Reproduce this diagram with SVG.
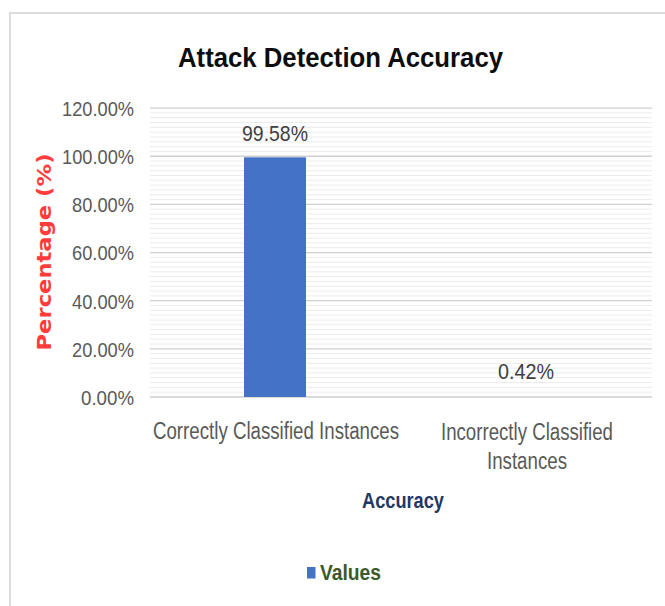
<svg xmlns="http://www.w3.org/2000/svg" width="665" height="606" viewBox="0 0 665 606">
<style>
  .tick { font-family: "Liberation Sans", Arial, sans-serif; font-size: 21px; fill: #595959; text-anchor: end; }
  .cat { font-family: "Liberation Sans", Arial, sans-serif; font-size: 23px; fill: #595959; text-anchor: middle; }
  .val { font-family: "Liberation Sans", Arial, sans-serif; font-size: 22px; fill: #404040; text-anchor: middle; }
  .major { stroke: #d0d0d0; stroke-width: 1.3; fill: none; }
  .minor { stroke: #ececec; stroke-width: 1; fill: none; }
</style>
<rect x="0" y="0" width="665" height="606" fill="#ffffff"/>
<rect id="chart-border" x="10" y="13" width="700" height="700" fill="#ffffff" stroke="#dcdcdc" stroke-width="2"/>

<g id="title">
  <text x="340.5" y="67" font-family="'Liberation Sans', Arial, sans-serif" font-weight="bold" font-size="28" fill="#0d0d0d" text-anchor="middle" textLength="325" lengthAdjust="spacingAndGlyphs">Attack Detection Accuracy</text>
</g>

<g id="gridlines">
  <path class="minor" d="M150 392.2H652M150 387.4H652M150 382.6H652M150 377.7H652M150 372.9H652M150 368.1H652M150 363.3H652M150 358.5H652M150 353.7H652
  M150 344.0H652M150 339.2H652M150 334.4H652M150 329.6H652M150 324.8H652M150 320.0H652M150 315.1H652M150 310.3H652M150 305.5H652
  M150 295.9H652M150 291.1H652M150 286.3H652M150 281.4H652M150 276.6H652M150 271.8H652M150 267.0H652M150 262.2H652M150 257.4H652
  M150 247.7H652M150 242.9H652M150 238.1H652M150 233.3H652M150 228.5H652M150 223.7H652M150 218.8H652M150 214.0H652M150 209.2H652
  M150 199.6H652M150 194.8H652M150 190.0H652M150 185.1H652M150 180.3H652M150 175.5H652M150 170.7H652M150 165.9H652M150 161.1H652
  M150 151.4H652M150 146.6H652M150 141.8H652M150 137.0H652M150 132.2H652M150 127.4H652M150 122.5H652M150 117.7H652M150 112.9H652"/>
  <path class="major" d="M150 397H652M150 348.85H652M150 300.7H652M150 252.55H652M150 204.4H652M150 156.25H652M150 108.1H652"/>
</g>

<g id="y-axis">
  <text class="tick" x="134" y="116" textLength="72" lengthAdjust="spacingAndGlyphs">120.00%</text>
  <text class="tick" x="134" y="164" textLength="72" lengthAdjust="spacingAndGlyphs">100.00%</text>
  <text class="tick" x="134" y="212" textLength="62" lengthAdjust="spacingAndGlyphs">80.00%</text>
  <text class="tick" x="134" y="260" textLength="62" lengthAdjust="spacingAndGlyphs">60.00%</text>
  <text class="tick" x="134" y="309" textLength="62" lengthAdjust="spacingAndGlyphs">40.00%</text>
  <text class="tick" x="134" y="357" textLength="62" lengthAdjust="spacingAndGlyphs">20.00%</text>
  <text class="tick" x="134" y="405" textLength="53" lengthAdjust="spacingAndGlyphs">0.00%</text>
  <text transform="translate(51,252) rotate(-90)" x="0" y="0" font-family="'DejaVu Sans', Verdana, sans-serif" font-weight="bold" font-size="19" fill="#ff3b3b" text-anchor="middle" textLength="197" lengthAdjust="spacingAndGlyphs">Percentage (%)</text>
</g>

<g id="bar-correct">
  <rect x="244" y="157.3" width="62" height="239.7" fill="#4472c4"/>
  <text class="val" x="275" y="141" textLength="66" lengthAdjust="spacingAndGlyphs">99.58%</text>
</g>

<g id="bar-incorrect">
  <text class="val" x="526" y="379" textLength="56" lengthAdjust="spacingAndGlyphs">0.42%</text>
</g>

<g id="x-axis">
  <text class="cat" x="276" y="439" textLength="246" lengthAdjust="spacingAndGlyphs">Correctly Classified Instances</text>
  <text class="cat" x="527" y="440" textLength="172" lengthAdjust="spacingAndGlyphs">Incorrectly Classified</text>
  <text class="cat" x="527" y="469" textLength="80" lengthAdjust="spacingAndGlyphs">Instances</text>
  <text x="403" y="508" font-family="'Liberation Sans', Arial, sans-serif" font-weight="bold" font-size="22" fill="#1f3864" text-anchor="middle" textLength="82" lengthAdjust="spacingAndGlyphs">Accuracy</text>
</g>

<g id="legend">
  <rect x="307" y="567" width="8.5" height="11.5" fill="#4472c4"/>
  <text x="320" y="580" font-family="'Liberation Sans', Arial, sans-serif" font-weight="bold" font-size="22" fill="#3b5a2a" textLength="61" lengthAdjust="spacingAndGlyphs">Values</text>
</g>
</svg>
